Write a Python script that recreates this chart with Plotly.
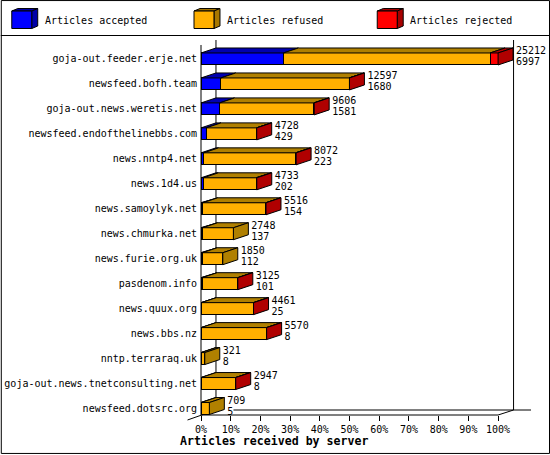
import plotly.graph_objects as go

hosts = ["goja-out.feeder.erje.net", "newsfeed.bofh.team", "goja-out.news.weretis.net",
         "newsfeed.endofthelinebbs.com", "news.nntp4.net", "news.1d4.us", "news.samoylyk.net",
         "news.chmurka.net", "news.furie.org.uk", "pasdenom.info", "news.quux.org", "news.bbs.nz",
         "nntp.terraraq.uk", "goja-out.news.tnetconsulting.net", "newsfeed.dotsrc.org"]
received = [25212, 12597, 9606, 4728, 8072, 4733, 5516, 2748, 1850, 3125, 4461, 5570, 321, 2947, 709]
accepted = [6997, 1680, 1581, 429, 223, 202, 154, 137, 112, 101, 25, 8, 8, 8, 5]
refused = [17535, 10887, 7995, 4279, 7809, 4471, 5352, 2611, 1738, 3019, 4426, 5552, 313, 2934, 704]
rejected = [680, 30, 30, 20, 40, 60, 10, 0, 0, 5, 10, 10, 0, 5, 0]
percent_ticks = list(range(0, 101, 10))
legend_names = ["Articles accepted", "Articles refused", "Articles rejected"]

BLUE, ORANGE, RED = "#0000ff", "#ffb000", "#ff0000"
DBLUE, DORANGE, DRED = "#0000b0", "#b08000", "#b00000"
FONT = "DejaVu Sans Mono"

# pixel geometry of the plot area
L, R, T, B = 200.5, 550, 40, 415.5
PX_PER_PCT = 2.975
PX_PER_ROW = 25
ROW0 = 59
DX = 15 / PX_PER_PCT
DY = 5 / PX_PER_ROW
scale = 100 / max(received)
x_range = [0, (R - L) / PX_PER_PCT]
y_range = [(B - ROW0) / PX_PER_ROW, (T - ROW0) / PX_PER_ROW]


def pct(values):
    return [v * scale for v in values]


def polys(items):
    xs, ys = [], []
    for px_, py_ in items:
        xs += list(px_) + [px_[0], None]
        ys += list(py_) + [py_[0], None]
    return xs, ys


def top_face(i, a, b):
    t = i - 0.24
    return ([a, a + DX, b + DX, b], [t, t - DY, t - DY, t])


def side_face(i, e):
    t, u = i - 0.24, i + 0.24
    return ([e, e + DX, e + DX, e], [t, t - DY, u - DY, u])


rows = list(range(len(hosts)))
a_pct, f_pct, r_pct = pct(accepted), pct(refused), pct(rejected)
tops = {BLUE: [], ORANGE: [], RED: []}
sides = {ORANGE: [], RED: []}
for i in rows:
    a_end = a_pct[i]
    f_end = a_end + f_pct[i]
    r_end = f_end + r_pct[i]
    tops[BLUE].append(top_face(i, 0, a_end))
    tops[ORANGE].append(top_face(i, a_end, f_end))
    if rejected[i] > 0:
        tops[RED].append(top_face(i, f_end, r_end))
        sides[RED].append(side_face(i, r_end))
    else:
        sides[ORANGE].append(side_face(i, f_end))

fig = go.Figure()
for vals, col in ((a_pct, BLUE), (f_pct, ORANGE), (r_pct, RED)):
    fig.add_trace(go.Bar(y=rows, x=vals, orientation="h", width=0.48,
                         marker=dict(color=col, line=dict(color="black", width=1))))

for key, col, group in ((BLUE, DBLUE, tops), (ORANGE, DORANGE, tops), (RED, DRED, tops),
                        (ORANGE, DORANGE, sides), (RED, DRED, sides)):
    xs, ys = polys(group[key])
    fig.add_trace(go.Scatter(x=xs, y=ys, mode="lines", fill="toself", fillcolor=col,
                             line=dict(color="black", width=1), hoverinfo="skip"))

label_x = [v * scale + DX + 1.0 for v in received]
fig.add_trace(go.Scatter(x=label_x, y=[i - 7.5 / PX_PER_ROW for i in rows], mode="text",
                         text=[str(v) for v in received], textposition="middle right",
                         textfont=dict(family=FONT, size=10, color="black"), cliponaxis=False))
fig.add_trace(go.Scatter(x=label_x, y=[i + 3.5 / PX_PER_ROW for i in rows], mode="text",
                         text=[str(v) for v in accepted], textposition="middle right",
                         textfont=dict(family=FONT, size=10, color="black"), cliponaxis=False))


def X(p):
    return (p - L) / (R - L)


def Y(p):
    return (B - p) / (B - T)


def line(x0, y0, x1, y1, layer="below"):
    return dict(type="line", xref="paper", yref="paper", x0=X(x0), y0=Y(y0), x1=X(x1), y1=Y(y1),
                line=dict(color="black", width=1), layer=layer)


def poly(points, fill):
    d = "M " + " L ".join(f"{X(a)} {Y(b)}" for a, b in points) + " Z"
    return dict(type="path", xref="paper", yref="paper", path=d, fillcolor=fill,
                line=dict(color="black", width=1), layer="above")


shapes = [
    line(200.5, 45, 200.5, 415.5),
    line(215.5, 40, 215.5, 410.5),
    line(513.5, 40, 513.5, 410.5),
    line(233, 410.5, 531, 410.5),
    line(200.5, 415.5, 498, 415.5),
    line(187, 420.5, 215.5, 410.5),
    line(498, 415.5, 513.5, 410.5),
    line(0, 35.5, 550, 35.5, "above"),
]
shapes.append(dict(type="rect", xref="paper", yref="paper", x0=X(0.5), y0=Y(0.5), x1=X(549.5), y1=Y(454),
                   line=dict(color="black", width=1), fillcolor="rgba(0,0,0,0)", layer="above"))

annotations = []
for x0, name, c, d in zip((11, 193.5, 377), legend_names,
                          (BLUE, ORANGE, RED), ("#0000a8", "#a87800", "#a80000")):
    x1 = x0 + 20
    shapes += [
        poly([(x0, 11), (x0 + 6, 8.5), (x1 + 6, 8.5), (x1, 11)], d),
        poly([(x1, 11), (x1 + 6, 8.5), (x1 + 6, 26), (x1, 28.5)], d),
        poly([(x0, 11), (x1, 11), (x1, 28.5), (x0, 28.5)], c),
    ]
    annotations.append(dict(xref="paper", yref="paper", x=X(x0 + 31), y=Y(20), text=name, showarrow=False,
                            xanchor="left", yanchor="middle", font=dict(family=FONT, size=10, color="black")))
annotations.append(dict(xref="paper", yref="paper", x=X(274), y=Y(442), text="<b>Articles received by server</b>",
                        showarrow=False, xanchor="center", yanchor="middle",
                        font=dict(family=FONT, size=11.6, color="black")))

fig.update_layout(
    width=550, height=455, barmode="stack", showlegend=False,
    margin=dict(l=L, r=550 - R, t=T, b=455 - B, pad=0),
    paper_bgcolor="white", plot_bgcolor="white",
    shapes=shapes, annotations=annotations,
    xaxis=dict(range=x_range, tickvals=percent_ticks, ticktext=[f"{v}%" for v in percent_ticks],
               ticks="outside", ticklen=5, tickwidth=1, tickcolor="black", showgrid=False, zeroline=False,
               showline=False, tickfont=dict(family=FONT, size=10, color="black")),
    yaxis=dict(range=y_range, tickvals=rows, ticktext=hosts, ticks="", showgrid=False, zeroline=False,
               showline=False, ticklabelstandoff=3, tickfont=dict(family=FONT, size=10, color="black")),
)

fig.write_html("out.html", config=dict(displayModeBar=False),
               post_script="document.body.style.margin='0';document.body.style.overflow='hidden';")
